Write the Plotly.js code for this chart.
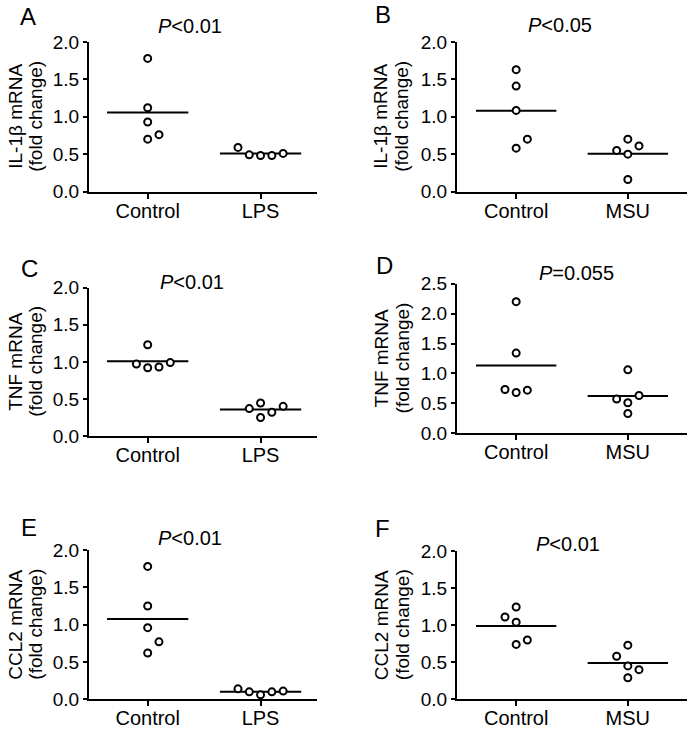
<!DOCTYPE html>
<html>
<head>
<meta charset="utf-8">
<script src="https://cdn.plot.ly/plotly-3.0.1.min.js"></script>
<style>html,body{margin:0;padding:0;background:#fff;}#chart{width:689px;height:730px;}</style>
</head>
<body>
<div id="chart"></div>
<script>
// ---------- data ----------
const panelLetters = ['A', 'B', 'C', 'D', 'E', 'F'];
const categoriesLPS = ['Control', 'LPS'];
const categoriesMSU = ['Control', 'MSU'];
const yTitles = ['IL-1β mRNA', 'IL-1β mRNA', 'TNF mRNA', 'TNF mRNA', 'CCL2 mRNA', 'CCL2 mRNA'];
const pLabels = ['<i>P</i>&lt;0.01', '<i>P</i>&lt;0.05', '<i>P</i>&lt;0.01', '<i>P</i>=0.055', '<i>P</i>&lt;0.01', '<i>P</i>&lt;0.01'];
const yMax = [2.0, 2.0, 2.0, 2.5, 2.0, 2.0];

// A: IL-1β, LPS
const aControl = [1.78, 1.12, 0.93, 0.70, 0.76];
const aControlJitter = [0, 0, 0, 0, 0.1];
const aTreated = [0.59, 0.49, 0.48, 0.48, 0.51];
const aTreatedJitter = [-0.2, -0.1, 0, 0.1, 0.2];
// B: IL-1β, MSU
const bControl = [1.63, 1.41, 1.085, 0.58, 0.70];
const bControlJitter = [0, 0, 0, 0, 0.1];
const bTreated = [0.70, 0.55, 0.50, 0.61, 0.16];
const bTreatedJitter = [0, -0.1, 0, 0.1, 0];
// C: TNF, LPS
const cControl = [1.23, 0.97, 0.92, 0.93, 0.99];
const cControlJitter = [0, -0.1, 0, 0.1, 0.2];
const cTreated = [0.37, 0.445, 0.25, 0.32, 0.40];
const cTreatedJitter = [-0.1, 0, 0, 0.1, 0.2];
// D: TNF, MSU
const dControl = [2.20, 1.34, 0.73, 0.68, 0.72];
const dControlJitter = [0, 0, -0.1, 0, 0.1];
const dTreated = [1.06, 0.57, 0.51, 0.63, 0.33];
const dTreatedJitter = [0, -0.1, 0, 0.1, 0];
// E: CCL2, LPS
const eControl = [1.78, 1.25, 0.96, 0.77, 0.62];
const eControlJitter = [0, 0, 0, 0.1, 0];
const eTreated = [0.14, 0.10, 0.06, 0.10, 0.11];
const eTreatedJitter = [-0.2, -0.1, 0, 0.1, 0.2];
// F: CCL2, MSU
const fControl = [1.11, 1.245, 1.04, 0.74, 0.80];
const fControlJitter = [-0.1, 0, 0, 0, 0.1];
const fTreated = [0.73, 0.58, 0.45, 0.40, 0.29];
const fTreatedJitter = [0, -0.1, 0, 0.1, 0];

const panelData = [
  {cats: categoriesLPS, groups: [[aControl, aControlJitter], [aTreated, aTreatedJitter]]},
  {cats: categoriesMSU, groups: [[bControl, bControlJitter], [bTreated, bTreatedJitter]]},
  {cats: categoriesLPS, groups: [[cControl, cControlJitter], [cTreated, cTreatedJitter]]},
  {cats: categoriesMSU, groups: [[dControl, dControlJitter], [dTreated, dTreatedJitter]]},
  {cats: categoriesLPS, groups: [[eControl, eControlJitter], [eTreated, eTreatedJitter]]},
  {cats: categoriesMSU, groups: [[fControl, fControlJitter], [fTreated, fTreatedJitter]]}
];

// ---------- layout geometry ----------
const W = 689, H = 730;
const FONT = 'Liberation Sans, Arial, Helvetica, sans-serif';
const px = x => x / W;
const py = y => 1 - y / H;
// pixel boxes of each plot area [left, right, top, bottom]
const boxes = [
  [89, 317, 42, 191.5],
  [457, 687, 42, 191.5],
  [89, 317, 287.7, 436],
  [457, 687, 283.7, 433.2],
  [89, 317, 550, 699.3],
  [457, 687, 551, 699.3]
];
const xRanges = [[-0.52, 1.50], [-0.53, 1.53]];
const letterPos = [[28, 16], [383, 14.5], [29, 268], [384, 265], [28.5, 527], [382.5, 528]];
const pPos = [[190, 26], [560, 24.5], [192, 282], [576, 273], [190, 538], [568, 544]];
const titleX = [[16, 36], [381, 402]];
const halfWidth = 0.36;

const traces = [];
const layout = {
  width: W, height: H,
  margin: {l: 0, r: 0, t: 0, b: 0},
  paper_bgcolor: '#ffffff', plot_bgcolor: '#ffffff',
  showlegend: false,
  font: {family: FONT, color: '#000', size: 19},
  annotations: []
};

panelData.forEach((p, i) => {
  const n = i + 1;
  const xa = 'x' + (n === 1 ? '' : n), ya = 'y' + (n === 1 ? '' : n);
  const b = boxes[i];
  const col = i % 2;
  // mean lines
  p.groups.forEach((g, gi) => {
    const vals = g[0];
    const mean = vals.reduce((s, v) => s + v, 0) / vals.length;
    traces.push({
      type: 'scatter', mode: 'lines', xaxis: xa, yaxis: ya,
      x: [gi - halfWidth, gi + halfWidth], y: [mean, mean],
      line: {color: '#000', width: 2}, hoverinfo: 'skip', cliponaxis: false
    });
  });
  // points
  p.groups.forEach((g, gi) => {
    const vals = g[0], jit = g[1];
    traces.push({
      type: 'scatter', mode: 'markers', xaxis: xa, yaxis: ya,
      x: vals.map((v, k) => gi + jit[k]), y: vals,
      marker: {symbol: 'circle', size: 7, color: '#ffffff', line: {color: '#000', width: 2}},
      cliponaxis: false, name: p.cats[gi]
    });
  });
  layout['xaxis' + (n === 1 ? '' : n)] = {
    domain: [px(b[0]), px(b[1])], anchor: ya,
    range: xRanges[col], tickvals: [0, 1], ticktext: p.cats,
    showline: true, linecolor: '#000', linewidth: 2,
    ticks: 'outside', ticklen: 5, tickwidth: 2, tickcolor: '#000',
    ticklabelstandoff: -5,
    showgrid: false, zeroline: false, fixedrange: true,
    tickfont: {family: FONT, size: 20, color: '#000'}
  };
  layout['yaxis' + (n === 1 ? '' : n)] = {
    domain: [py(b[3]), py(b[2])], anchor: xa,
    range: [0, yMax[i]], dtick: 0.5, tick0: 0, tickformat: '.1f',
    showline: true, linecolor: '#000', linewidth: 2,
    ticks: 'outside', ticklen: 4, tickwidth: 2, tickcolor: '#000',
    showgrid: false, zeroline: false, fixedrange: true,
    tickfont: {family: FONT, size: 19, color: '#000'}
  };
  const yc = (b[2] + b[3]) / 2;
  layout.annotations.push(
    {text: yTitles[i], xref: 'paper', yref: 'paper', x: px(titleX[col][0]), y: py(yc),
     xanchor: 'center', yanchor: 'middle', textangle: -90, showarrow: false,
     font: {family: FONT, size: 19, color: '#000'}},
    {text: '(fold change)', xref: 'paper', yref: 'paper', x: px(titleX[col][1]), y: py(yc),
     xanchor: 'center', yanchor: 'middle', textangle: -90, showarrow: false,
     font: {family: FONT, size: 19, color: '#000'}},
    {text: panelLetters[i], xref: 'paper', yref: 'paper', x: px(letterPos[i][0]), y: py(letterPos[i][1]),
     xanchor: 'center', yanchor: 'middle', showarrow: false,
     font: {family: FONT, size: 24, color: '#000'}},
    {text: pLabels[i], xref: 'paper', yref: 'paper', x: px(pPos[i][0]), y: py(pPos[i][1]),
     xanchor: 'center', yanchor: 'middle', showarrow: false,
     font: {family: FONT, size: 20, color: '#000'}}
  );
});

Plotly.newPlot('chart', traces, layout, {displayModeBar: false, staticPlot: true});
</script>
</body>
</html>
